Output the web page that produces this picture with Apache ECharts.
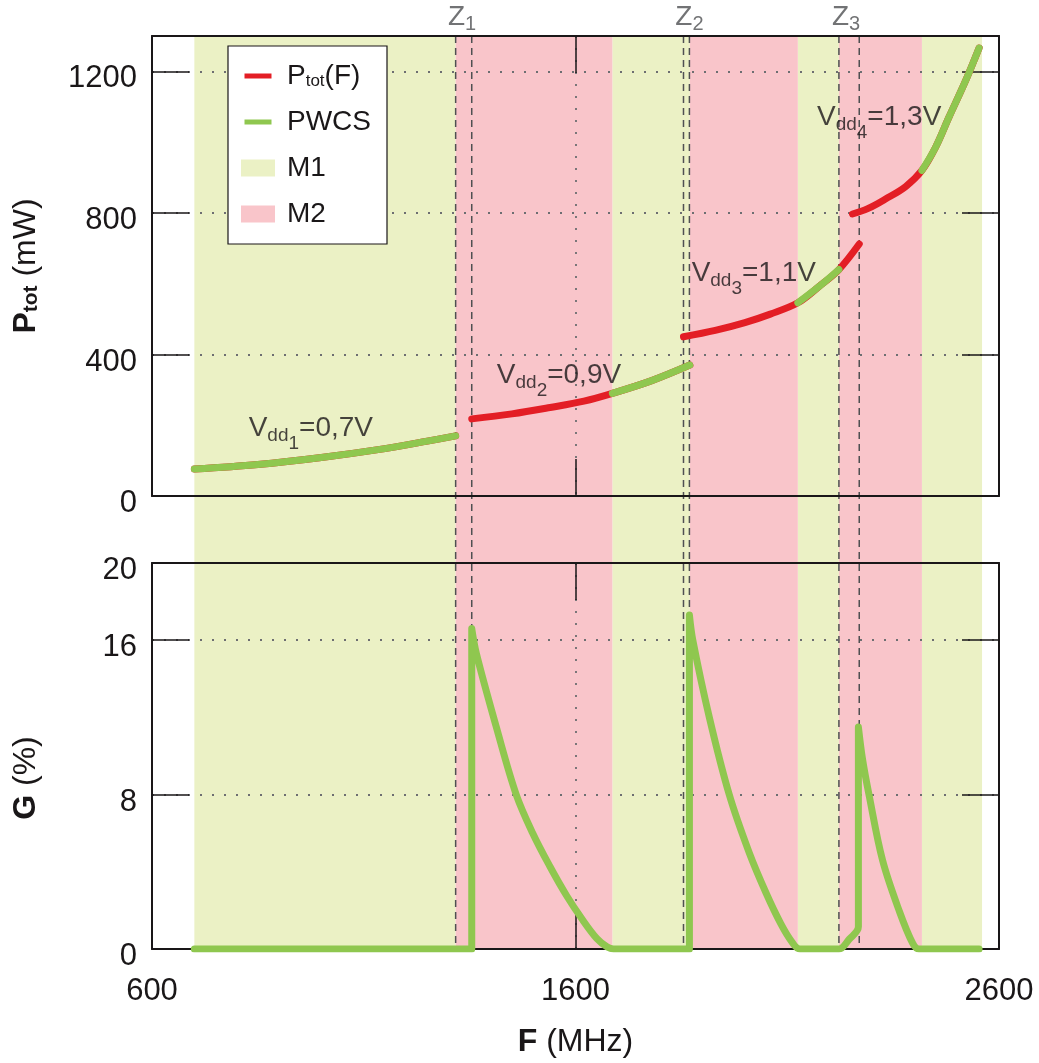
<!DOCTYPE html>
<html>
<head>
<meta charset="utf-8">
<script src="https://cdn.jsdelivr.net/npm/echarts@6/dist/echarts.min.js"></script>
<style>
  html, body { margin: 0; padding: 0; background: #fff; }
  #chart { width: 1039px; height: 1063px; }
</style>
</head>
<body>
<div id="chart"></div>
<script>
// axes
const freqMin = 600;
const freqMax = 2600;
const freqStep = 1000;
const ptotMax = 1300;
const ptotStep = 400;
const gainMax = 20;
const gainStep = 8;

// operating mode bands [from, to] in MHz
const m1Bands = [[700, 1317], [1687, 1870], [2125, 2222], [2418, 2560]];
const m2Bands = [[1317, 1687], [1870, 2125], [2222, 2418]];

// Z zones: dashed lines and where their labels sit
const zLines = [1317, 1355, 1855, 1869, 2222, 2270];
const zNames = ['1', '2', '3'];
const zLabelAt = [1332, 1869, 2239];

// Ptot(F) in mW, one curve per supply voltage
const ptotVdd1 = [[700, 76], [850, 89], [1000, 109], [1150, 134], [1250, 155], [1317, 170]];
const ptotVdd2 = [[1355, 218], [1450, 232], [1540, 250], [1620, 268], [1687, 290], [1780, 326], [1870, 370]];
const ptotVdd3 = [[1855, 450], [1930, 468], [2000, 490], [2060, 514], [2125, 546], [2175, 592], [2222, 640], [2270, 712]];
const ptotVdd4 = [[2254, 797], [2290, 812], [2333, 840], [2380, 875], [2418, 920], [2450, 985], [2482, 1071], [2522, 1176], [2553, 1266]];

// PWCS in mW (parts of the curves that run in M1)
const pwcsVdd1 = [[700, 76], [850, 89], [1000, 109], [1150, 134], [1250, 155], [1317, 170]];
const pwcsVdd2 = [[1687, 290], [1780, 326], [1870, 370]];
const pwcsVdd3 = [[2125, 546], [2175, 592], [2222, 640]];
const pwcsVdd4 = [[2418, 920], [2450, 985], [2482, 1071], [2522, 1176], [2553, 1266]];

// gain G (%) of PWCS
const gainPwcs = [
  [700, 0], [1355, 0], [1355, 16.6], [1366, 15.3], [1413, 11.5], [1460, 8.0], [1499, 6.0],
  [1539, 4.3], [1578, 2.8], [1617, 1.5], [1650, 0.55], [1675, 0.1], [1690, 0],
  [1869, 0], [1869, 17.3], [1877, 16.0], [1916, 12.0], [1963, 8.0], [2010, 5.0], [2050, 2.9],
  [2085, 1.3], [2110, 0.4], [2130, 0],
  [2222, 0], [2246, 0.5], [2268, 1.15], [2268, 11.5], [2278, 9.8], [2293, 8.0], [2325, 4.6],
  [2364, 2.0], [2396, 0.3], [2411, 0], [2553, 0],
];

// Vdd annotations
const vddIndex = ['1', '2', '3', '4'];
const vddVolt = ['0,7V', '0,9V', '1,1V', '1,3V'];
const vddLabelAt = [[975, 192], [1561, 342], [2021, 630], [2317, 1071]];

const RED = '#e31e25';
const GREEN = '#8fc74f';
const M1_COLOR = '#ebf1c5';
const M2_COLOR = '#f9c5ca';
const INK = '#1a1718';
const GREY = '#4f5052';
const FONT = '"Liberation Sans", Arial, Helvetica, sans-serif';

function frameAxis(grid, position, extra) {
  return Object.assign({
    gridIndex: grid,
    type: 'value',
    position: position,
    z: 1,
    axisLine: { show: true, onZero: false, lineStyle: { color: INK, width: 2 } },
    axisTick: { show: true, inside: true, length: 37, lineStyle: { color: INK, width: 1.5 } },
    axisLabel: { show: false },
    splitLine: { show: false },
  }, extra);
}

const dotted = { show: true, lineStyle: { color: '#6d6e71', width: 1.8, type: [2, 10] } };

// y tick labels sit a little below their tick
const yLabel = {
  show: true,
  margin: 15,
  formatter: function (v) { return '{t|' + v + '}'; },
  rich: { t: { fontSize: 31, color: INK, fontFamily: FONT, padding: [15, 0, 0, 0] } },
};

function renderBand(params, api) {
  const a = api.coord([api.value(0), 1]);
  const b = api.coord([api.value(1), 0]);
  return {
    type: 'rect',
    shape: { x: a[0], y: a[1], width: b[0] - a[0], height: b[1] - a[1] },
    style: { fill: api.visual('color') },
  };
}

function renderZLine(params, api) {
  const a = api.coord([api.value(0), 1]);
  const b = api.coord([api.value(0), 0]);
  return {
    type: 'line',
    shape: { x1: a[0], y1: a[1], x2: b[0], y2: b[1] },
    style: { stroke: GREY, lineWidth: 1.5, lineDash: [7, 5] },
  };
}

function curve(name, data, color, z) {
  return {
    name: name,
    type: 'line',
    xAxisIndex: 0,
    yAxisIndex: 0,
    data: data,
    smooth: 0.35,
    showSymbol: false,
    silent: true,
    z: z,
    color: color,
    lineStyle: { color: color, width: 7, cap: 'round', join: 'round' },
  };
}

const chart = echarts.init(document.getElementById('chart'));

chart.setOption({
  animation: false,
  backgroundColor: '#fff',
  textStyle: { fontFamily: FONT },
  grid: [
    { left: 152, right: 40, top: 36, height: 460 },
    { left: 152, right: 40, top: 563, height: 386 },
    { left: 152, right: 40, top: 36, height: 913 },
  ],
  legend: {
    orient: 'vertical',
    left: 228,
    top: 46,
    padding: [16, 16, 16, 13],
    itemWidth: 34,
    itemHeight: 17,
    itemGap: 18,
    selectedMode: false,
    backgroundColor: '#fff',
    borderColor: INK,
    borderWidth: 1.2,
    borderRadius: 0,
    data: [
      { name: 'Ptot(F)', icon: 'path://M0,0M34,17M3.5,6h27v5h-27z' },
      { name: 'PWCS', icon: 'path://M0,0M34,17M3.5,6h27v5h-27z' },
      { name: 'M1', icon: 'rect' },
      { name: 'M2', icon: 'rect' },
    ],
    formatter: function (name) {
      if (name === 'Ptot(F)') return '{a|P}{s|tot}{a|(F)}';
      return '{a|' + name + '}';
    },
    textStyle: {
      color: INK,
      padding: [0, 0, 0, 7],
      rich: {
        a: { fontSize: 28, lineHeight: 30, color: INK, fontFamily: FONT },
        s: { fontSize: 17, lineHeight: 17, padding: [11, 0, 0, 0], color: INK, fontFamily: FONT },
      },
    },
  },
  xAxis: [
    frameAxis(0, 'bottom', { min: freqMin, max: freqMax, interval: freqStep, splitLine: dotted }),
    frameAxis(0, 'top', { min: freqMin, max: freqMax, interval: freqStep }),
    frameAxis(1, 'bottom', {
      min: freqMin, max: freqMax, interval: freqStep, splitLine: dotted,
      axisLabel: {
        show: true, margin: 27, fontSize: 31, color: INK, fontFamily: FONT,
        formatter: function (v) { return String(v); },
      },
      name: '{b|F}{n| (MHz)}',
      nameLocation: 'middle',
      nameGap: 77,
      nameTextStyle: {
        rich: {
          b: { fontSize: 32, fontWeight: 'bold', color: INK, fontFamily: FONT },
          n: { fontSize: 32, color: INK, fontFamily: FONT },
        },
      },
    }),
    frameAxis(1, 'top', { min: freqMin, max: freqMax, interval: freqStep }),
    { gridIndex: 2, type: 'value', min: freqMin, max: freqMax, show: false },
  ],
  yAxis: [
    frameAxis(0, 'left', {
      min: 0, max: ptotMax, interval: ptotStep, splitLine: dotted,
      axisLabel: Object.assign({ showMaxLabel: false }, yLabel),
      name: '{b|P}{bs|tot}{n| (mW)}',
      nameLocation: 'middle',
      nameRotate: 90,
      nameGap: 110,
      nameTextStyle: {
        rich: {
          b: { fontSize: 32, fontWeight: 'bold', color: INK, fontFamily: FONT },
          bs: { fontSize: 21, fontWeight: 'bold', padding: [10, 0, 0, 0], color: INK, fontFamily: FONT },
          n: { fontSize: 32, color: INK, fontFamily: FONT },
        },
      },
    }),
    frameAxis(0, 'right', { min: 0, max: ptotMax, interval: ptotStep }),
    frameAxis(1, 'left', {
      min: 0, max: gainMax, interval: gainStep, splitLine: dotted,
      axisLabel: yLabel,
      name: '{b|G}{n| (%)}',
      nameLocation: 'middle',
      nameRotate: 90,
      nameGap: 110,
      nameTextStyle: {
        padding: [0, 44, 0, 0],
        rich: {
          b: { fontSize: 32, fontWeight: 'bold', color: INK, fontFamily: FONT },
          n: { fontSize: 32, color: INK, fontFamily: FONT },
        },
      },
    }),
    frameAxis(1, 'right', { min: 0, max: gainMax, interval: gainStep }),
    { gridIndex: 2, type: 'value', min: 0, max: 1, show: false },
  ],
  series: [
    {
      name: 'M1', type: 'custom', xAxisIndex: 4, yAxisIndex: 4, z: 0, silent: true,
      itemStyle: { color: M1_COLOR }, renderItem: renderBand, data: m1Bands,
    },
    {
      name: 'M2', type: 'custom', xAxisIndex: 4, yAxisIndex: 4, z: 0, silent: true,
      itemStyle: { color: M2_COLOR }, renderItem: renderBand, data: m2Bands,
    },
    {
      name: 'Z', type: 'custom', xAxisIndex: 4, yAxisIndex: 4, z: 1, silent: true,
      renderItem: renderZLine, data: zLines.map(function (f) { return [f, 0]; }),
    },
    {
      name: 'Zlabel', type: 'scatter', xAxisIndex: 4, yAxisIndex: 4, z: 5, silent: true, clip: false,
      symbolSize: 0,
      data: zLabelAt.map(function (f) { return [f, 1]; }),
      label: {
        show: true,
        position: 'inside',
        offset: [0, -19],
        formatter: function (p) { return '{z|Z}{s|' + zNames[p.dataIndex] + '}'; },
        rich: {
          z: { fontSize: 28, lineHeight: 30, color: GREY, fontFamily: FONT },
          s: { fontSize: 20, lineHeight: 20, padding: [14, 0, 0, 0], color: GREY, fontFamily: FONT },
        },
      },
    },
    curve('Ptot(F)', ptotVdd1, RED, 3),
    curve('Ptot(F)', ptotVdd2, RED, 3),
    curve('Ptot(F)', ptotVdd3, RED, 3),
    curve('Ptot(F)', ptotVdd4, RED, 3),
    curve('PWCS', pwcsVdd1, GREEN, 4),
    curve('PWCS', pwcsVdd2, GREEN, 4),
    curve('PWCS', pwcsVdd3, GREEN, 4),
    curve('PWCS', pwcsVdd4, GREEN, 4),
    Object.assign(curve('PWCS', gainPwcs, GREEN, 4), { xAxisIndex: 2, yAxisIndex: 2 }),
    {
      name: 'Vdd', type: 'scatter', xAxisIndex: 0, yAxisIndex: 0, z: 5, silent: true, clip: false,
      symbolSize: 0,
      data: vddLabelAt,
      label: {
        show: true,
        position: 'inside',
        formatter: function (p) {
          return '{v|V}{d|dd}{n|' + vddIndex[p.dataIndex] + '}{v|=' + vddVolt[p.dataIndex] + '}';
        },
        rich: {
          v: { fontSize: 28, lineHeight: 30, color: INK, fontFamily: FONT },
          d: { fontSize: 19, lineHeight: 19, padding: [16, 0, 0, 0], color: INK, fontFamily: FONT },
          n: { fontSize: 19, lineHeight: 19, padding: [32, 0, 0, 0], color: INK, fontFamily: FONT },
        },
      },
    },
  ],
});
</script>
</body>
</html>
